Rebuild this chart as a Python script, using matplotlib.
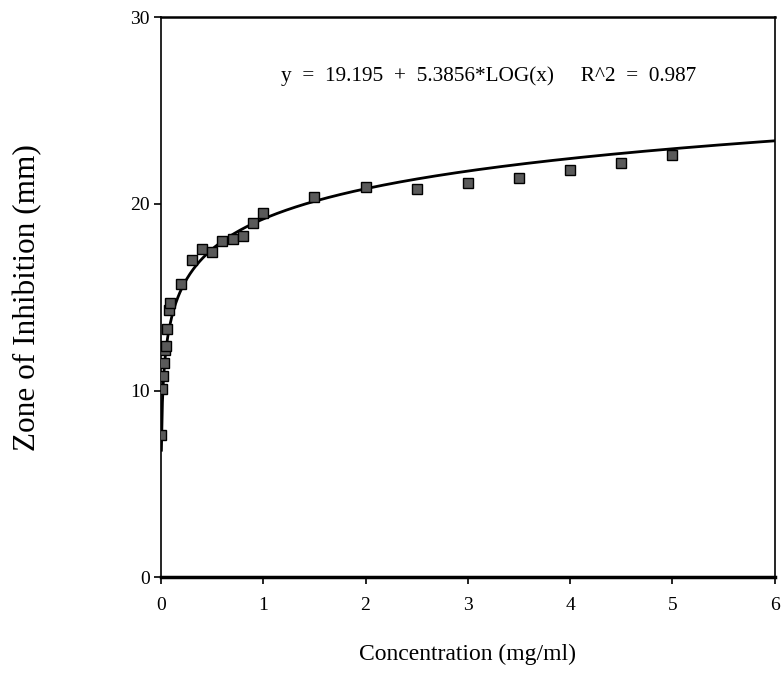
import numpy as np
import matplotlib
matplotlib.use("Agg")
import matplotlib.pyplot as plt

conc = [0.005, 0.01, 0.02, 0.03, 0.04, 0.05, 0.06, 0.08, 0.09,
        0.2, 0.3, 0.4, 0.5, 0.6, 0.7, 0.8, 0.9, 1.0,
        1.5, 2.0, 2.5, 3.0, 3.5, 4.0, 4.5, 5.0]
zone = [7.6, 10.1, 10.8, 11.5, 12.2, 12.4, 13.3, 14.3, 14.7,
        15.7, 17.0, 17.6, 17.4, 18.0, 18.1, 18.3, 19.0, 19.5,
        20.4, 20.9, 20.8, 21.1, 21.4, 21.8, 22.2, 22.6]

# log trendline as printed on the chart
fit_a = 19.195
fit_b = 5.3856
r2 = 0.987

plt.rcParams['font.family'] = ['Liberation Serif', 'DejaVu Serif']

fig = plt.figure(figsize=(7.81, 6.97), dpi=100)
ax = fig.add_axes([0.206, 0.172, 0.786, 0.803])

xs = np.linspace(min(conc), 6, 600)
ax.plot(xs, fit_a + fit_b * np.log10(xs), color='black', lw=2, zorder=2)
ax.plot(conc, zone, ls='none', marker='s', ms=7, mfc='#5a5a5a',
        mec='black', mew=1, zorder=3)

ax.text(3.2, 26.85, f"y  =  {fit_a}  +  {fit_b}*LOG(x)     R^2  =  {r2}",
        ha='center', va='center', fontsize=15.3)

ax.set_xlim(0, 6)
ax.set_ylim(0, 30)
ax.set_xticks(range(0, 7))
ax.set_yticks([0, 10, 20, 30])
ax.tick_params(direction='out', length=5, width=1.2, labelsize=14)
ax.tick_params(axis='x', pad=9)
ax.tick_params(axis='y', pad=3)

for side in ['left', 'right']:
    ax.spines[side].set_linewidth(1.2)
ax.spines['top'].set_linewidth(1.8)
ax.spines['bottom'].set_linewidth(2.5)

ax.set_xlabel("Concentration (mg/ml)", fontsize=17, labelpad=22)
ax.set_ylabel("Zone of Inhibition (mm)", fontsize=22.5, labelpad=63)

fig.savefig("out.png", dpi=100)
